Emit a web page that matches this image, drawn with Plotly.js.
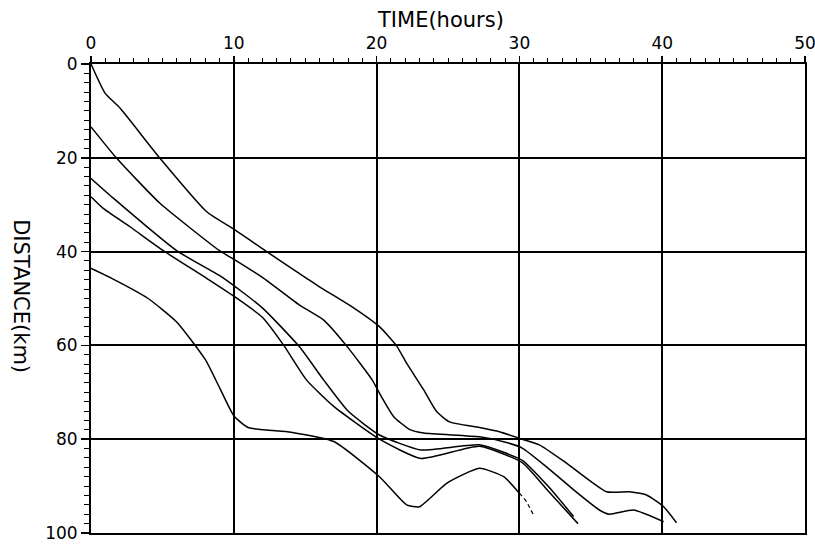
<!DOCTYPE html>
<html>
<head>
<meta charset="utf-8">
<script src="https://cdn.plot.ly/plotly-3.0.1.min.js"></script>
<style>html,body{margin:0;padding:0;background:#fff;}#chart{width:815px;height:546px;}</style>
</head>
<body>
<div id="chart"></div>
<script>
// Curve A (starts at 0 km)
const timeA = [0, 0.98, 2.03, 4.83, 8.1, 10.1, 12.2, 15.1, 16.0, 18.1, 20.2, 21.4, 22.1, 23.3, 24.2, 25.1, 27.2, 28.6, 30.2, 31.4, 33.3, 36.1, 37.7, 38.9, 40.1, 41.0];
const distA = [0, 6.2, 9.4, 20.1, 31.5, 35.4, 39.8, 45.7, 47.5, 51.4, 56.0, 60.1, 63.8, 69.5, 74.1, 76.3, 77.5, 78.4, 80.0, 81.2, 85.1, 91.2, 91.2, 91.9, 94.4, 97.8];
// Curve B (starts at ~13 km)
const timeB = [0, 1.8, 4.83, 9.0, 10.1, 12.1, 14.6, 16.3, 17.9, 19.7, 20.2, 21.2, 22.3, 23.3, 27.2, 29.1, 30.2, 31.9, 33.8, 35.6, 36.3, 38.0, 40.1];
const distB = [13.4, 20.1, 29.7, 39.8, 41.8, 45.7, 51.4, 54.6, 60.1, 67.4, 70.2, 75.2, 77.9, 78.7, 79.5, 80.7, 81.9, 85.9, 90.8, 95.1, 96.0, 95.1, 97.6];
// Curve C (starts at ~24 km)
const timeC = [0, 1.56, 6.0, 9.3, 12.0, 14.6, 16.3, 18.0, 20.2, 23.1, 27.2, 30.2, 32.0, 33.8];
const distC = [24.4, 28.6, 39.8, 45.7, 52.0, 60.3, 67.4, 74.0, 79.1, 82.3, 81.2, 84.5, 90.0, 96.5];
// Curve D (starts at ~28 km)
const timeD = [0, 0.86, 2.73, 5.06, 8.1, 10.0, 12.0, 13.5, 15.1, 17.0, 20.2, 23.1, 27.2, 30.2, 32.0, 34.1];
const distD = [28.3, 30.8, 34.7, 39.8, 45.7, 49.5, 54.0, 60.0, 67.4, 73.0, 80.0, 84.1, 81.5, 85.0, 91.0, 98.0];
// Curve E (starts at ~44 km)
const timeE = [0, 1.45, 4.0, 6.0, 8.0, 9.0, 10.0, 11.0, 14.0, 17.0, 20.2, 22.1, 23.0, 24.9, 27.2, 28.9, 30.0];
const distE = [43.6, 45.7, 50.0, 55.0, 63.0, 69.0, 75.0, 77.5, 78.5, 80.5, 88.0, 94.0, 94.4, 89.4, 86.2, 88.0, 91.5];
// Curve E broken continuation
const timeE2 = [30.0, 30.5, 31.0];
const distE2 = [91.5, 93.3, 96.2];

const xTicks = [0, 10, 20, 30, 40, 50];
const yTicks = [0, 20, 40, 60, 80, 100];

const lineStyle = {color: '#000', width: 1.5, shape: 'spline', smoothing: 0.5};
const series = [[timeA, distA], [timeB, distB], [timeC, distC], [timeD, distD], [timeE, distE]];
const traces = series.map(s => ({x: s[0], y: s[1], mode: 'lines', line: lineStyle, hoverinfo: 'none'}));
traces.push({x: timeE2, y: distE2, mode: 'lines', line: {color: '#000', width: 1.2, dash: '4px,3px'}, hoverinfo: 'none'});

const font = 'DejaVu Sans, Liberation Sans, sans-serif';
const layout = {
  width: 815, height: 546,
  margin: {l: 91, r: 10, t: 64, b: 13},
  paper_bgcolor: '#fff', plot_bgcolor: '#fff',
  showlegend: false,
  font: {family: font, color: '#000', size: 17},
  xaxis: {
    side: 'top', range: [0, 50], tickvals: xTicks, ticktext: xTicks.map(String),
    ticks: 'outside', ticklen: 6, tickwidth: 1.5, tickcolor: '#000',
    minor: {dtick: 1, ticks: 'outside', ticklen: 4, tickwidth: 1, tickcolor: '#000', showgrid: false},
    showgrid: true, gridcolor: '#000', gridwidth: 2,
    showline: true, linecolor: '#000', linewidth: 2, mirror: true,
    zeroline: false, tickfont: {size: 17, family: font},
    ticklabeloverflow: 'allow', automargin: false
  },
  yaxis: {
    range: [100, 0], tickvals: yTicks, ticktext: yTicks.map(String),
    ticks: 'outside', ticklen: 8, tickwidth: 1.5, tickcolor: '#000',
    minor: {dtick: 2, ticks: 'outside', ticklen: 5, tickwidth: 1, tickcolor: '#000', showgrid: false},
    showgrid: true, gridcolor: '#000', gridwidth: 2,
    showline: true, linecolor: '#000', linewidth: 2, mirror: true,
    zeroline: false, tickfont: {size: 17, family: font},
    ticklabeloverflow: 'allow', automargin: false
  },
  annotations: [
    {text: 'TIME(hours)', xref: 'paper', yref: 'paper', x: 0.489, y: 1.094, showarrow: false,
     font: {size: 21, family: font, color: '#000'}, xanchor: 'center', yanchor: 'middle'},
    {text: 'DISTANCE(km)', xref: 'paper', yref: 'paper', x: -0.098, y: 0.505, showarrow: false,
     textangle: 90, font: {size: 21, family: font, color: '#000'}, xanchor: 'center', yanchor: 'middle'}
  ]
};
Plotly.newPlot('chart', traces, layout, {staticPlot: true, displayModeBar: false});
</script>
</body>
</html>
